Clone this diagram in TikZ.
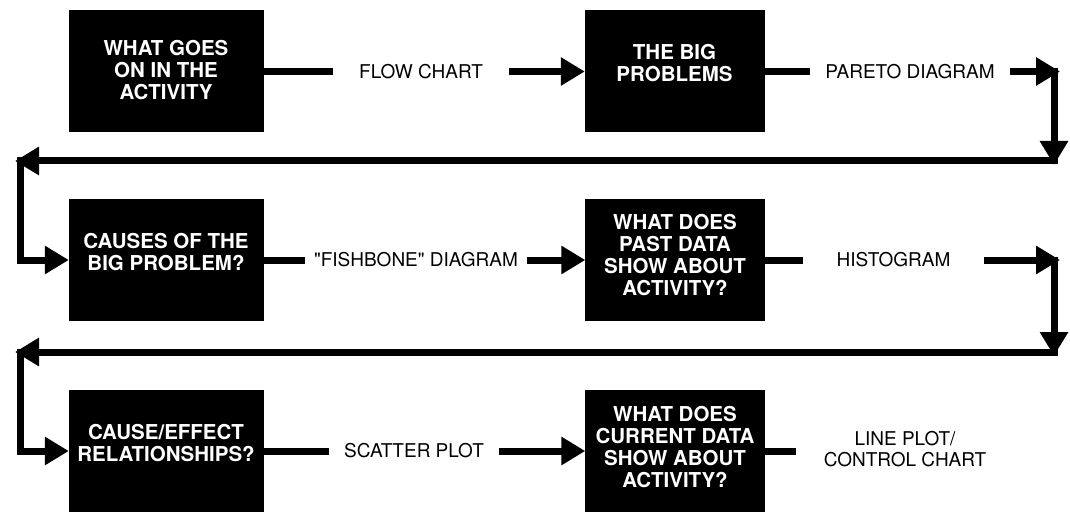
\documentclass[tikz,border=0pt]{standalone}
\usepackage{fontspec}
\setmainfont{TeX Gyre Heros}
\usetikzlibrary{arrows.meta}

\begin{document}
\begin{tikzpicture}[x=1pt,y=1pt,>={Triangle[length=24pt,width=27pt]},line width=7pt,
        stepbox/.style={draw,rectangle,fill=black,text=white,line width=0.4pt,align=center,
            font=\bfseries\fontsize{20.5}{22}\selectfont,minimum width=194pt,minimum height=121pt,inner sep=0pt},
        toolname/.style={align=center,font=\fontsize{19}{21}\selectfont,inner xsep=12pt,inner ysep=0pt}]
        \useasboundingbox (0,0) rectangle (1070,-513);

        % questions
        \node (act) [stepbox] at (166,-70.5) {WHAT GOES\\ON IN THE\\ACTIVITY};
        \node (big) [stepbox,minimum width=179pt,text depth=16pt] at (674.5,-70.5) {THE BIG\\PROBLEMS};
        \node (causes) [stepbox,text depth=16pt] at (166,-260) {CAUSES OF THE\\BIG PROBLEM?};
        \node (past) [stepbox,minimum width=179pt,text depth=10pt] at (675,-260) {WHAT DOES\\PAST DATA\\SHOW ABOUT\\ACTIVITY?};
        \node (relat) [stepbox,text depth=16pt] at (166,-451) {CAUSE/EFFECT\\RELATIONSHIPS?};
        \node (current) [stepbox,minimum width=179pt,text depth=8pt] at (675,-451) {WHAT DOES\\CURRENT DATA\\SHOW ABOUT\\ACTIVITY?};

        % tools
        \node (flowc) [toolname,inner xsep=23pt] at (421,-71.5) {FLOW CHART};
        \node (pareto) [toolname] at (910,-71.5) {PARETO DIAGRAM};
        \node (fish) [toolname,inner xsep=6pt] at (416,-260) {\textquotedbl FISHBONE\textquotedbl\ DIAGRAM};
        \node (histo) [toolname,inner xsep=30pt] at (893.5,-260) {HISTOGRAM};
        \node (scatter) [toolname] at (414,-451) {SCATTER PLOT};
        \node (lineplot) [toolname,inner xsep=24pt] at (905,-449) {LINE PLOT/\\CONTROL CHART};

        % turns at the ends of the rows
        \coordinate (tr1) at (1060,-71.5);
        \coordinate (dn1) at (1054,-68);
        \coordinate (br1) at (1054,-165);
        \coordinate (rt1) at (1058,-161);
        \coordinate (lt1) at (15,-161);
        \coordinate (up1) at (20,-157.5);
        \coordinate (tr2) at (1060,-260);
        \coordinate (dn2) at (1054,-256.5);
        \coordinate (br2) at (1054,-356);
        \coordinate (rt2) at (1058,-352);
        \coordinate (lt2) at (15,-352);
        \coordinate (up2) at (20,-348.5);

        \draw (act.east |- flowc) -- (flowc);
        \draw[->] (flowc) -- (flowc -| big.west);
        \draw (big.east |- pareto) -- (pareto);
        \draw[->] (pareto) -- (tr1);
        \draw[->] (dn1) -- (br1);
        \draw[->] (rt1) -- (lt1);
        \draw[->] (up1) |- (causes);

        \draw (causes) -- (fish);
        \draw[->] (fish) -- (past);
        \draw (past) -- (histo);
        \draw[->] (histo) -- (tr2);
        \draw[->] (dn2) -- (br2);
        \draw[->] (rt2) -- (lt2);
        \draw[->] (up2) |- (relat);

        \draw (relat) -- (scatter);
        \draw[->] (scatter) -- (current);
        \draw (current) -- (current -| lineplot.west);
    \end{tikzpicture}
\end{document}
